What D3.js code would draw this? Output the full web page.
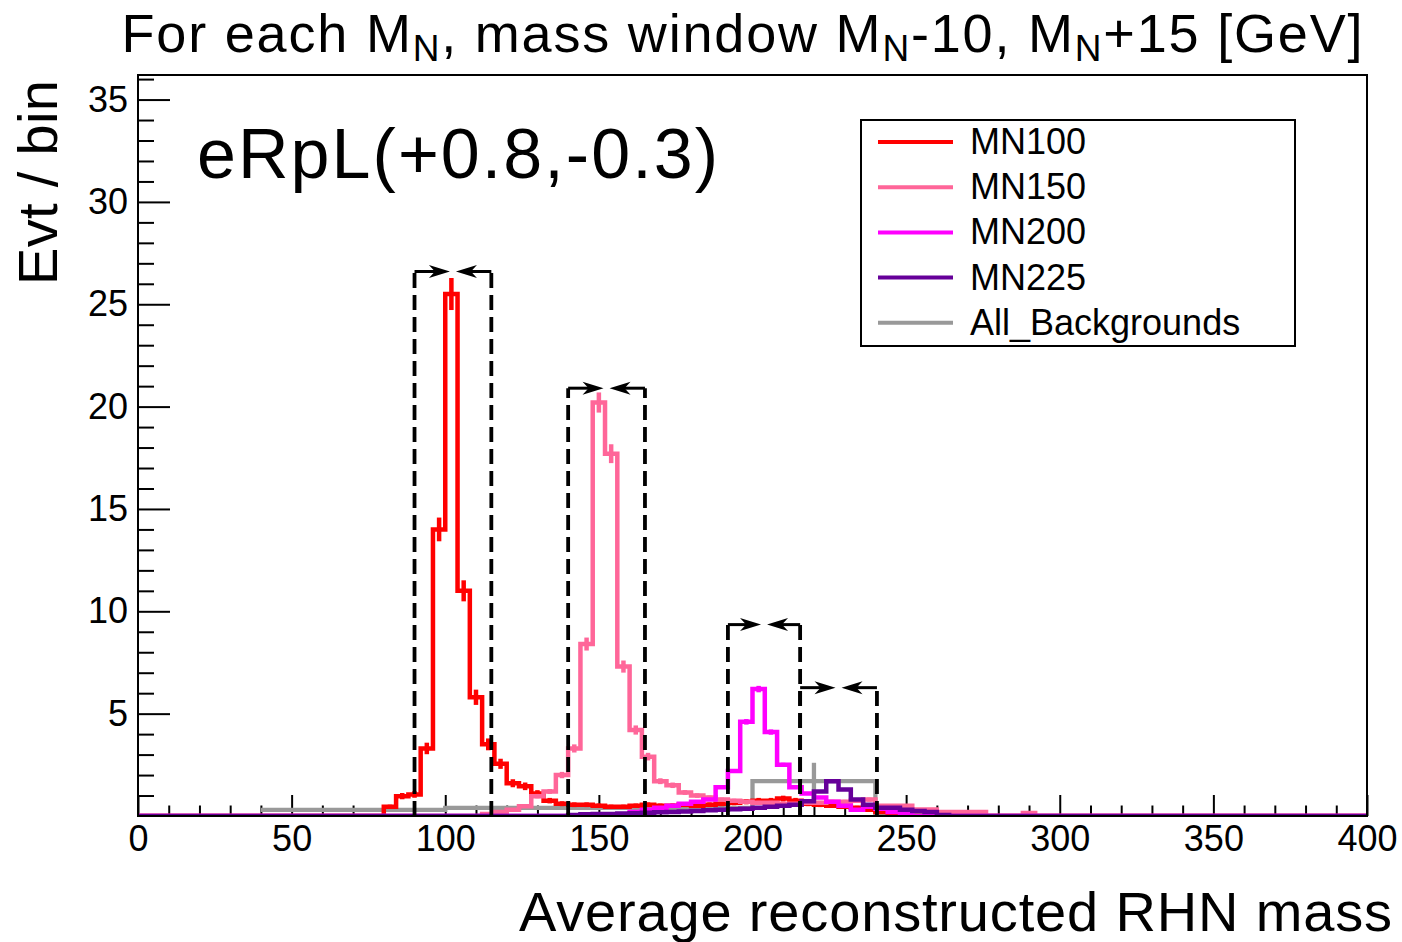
<!DOCTYPE html>
<html>
<head>
<meta charset="utf-8">
<script src="https://cdn.jsdelivr.net/npm/d3@7"></script>
<style>
  body { margin: 0; background: #fff; }
  svg text { font-family: "Liberation Sans", Arial, Helvetica, sans-serif; fill: #000; }
</style>
</head>
<body>
<div id="chart"></div>
<script>
// RHN mass windows plot, eRpL(+0.8,-0.3)

// ---- data ----
const binWidth = 4; // GeV, signal histograms

// MN100 from 80 GeV on
const mn100Start = 80;
const mn100 = [0.45, 0.97, 1.05, 3.3, 14.0, 25.5, 11.0, 5.8, 3.5, 2.55, 1.6, 1.45, 1.1, 0.75, 0.6,
  0.55, 0.55, 0.5, 0.45, 0.45, 0.5, 0.55, 0.5, 0.5, 0.55, 0.5, 0.55, 0.6, 0.65, 0.7, 0.75, 0.75,
  0.85, 0.75, 0.6, 0.55, 0.5, 0.45, 0.4, 0.3, 0.2, 0.1];

// MN150 from 112 GeV on
const mn150Start = 112;
const mn150 = [0.1, 0.2, 0.3, 0.48, 0.97, 1.2, 2.0, 3.3, 8.4, 20.2, 17.7, 7.3, 4.2, 2.9, 1.7, 1.5,
  1.15, 1.0, 0.9, 0.8, 0.75, 0.7, 0.65, 0.65, 0.6, 0.6, 0.65, 0.65, 0.7, 0.7, 0.75, 0.8, 0.5, 0.5,
  0.5, 0.32, 0.32, 0.2, 0.2, 0.2, 0.2, 0, 0, 0, 0.15];

// MN200 from 160 GeV on
const mn200Start = 160;
const mn200 = [0.2, 0.3, 0.4, 0.5, 0.6, 0.7, 0.8, 1.4, 2.2, 4.6, 6.2, 4.1, 2.5, 1.4, 1.1, 0.9, 0.7,
  0.5, 0.3, 0.45, 0.35, 0.2, 0.1];

// MN225 from 140 GeV on
const mn225Start = 140;
const mn225 = [0.05, 0.08, 0.1, 0.1, 0.12, 0.14, 0.16, 0.18, 0.2, 0.22, 0.25, 0.28, 0.3, 0.33, 0.36,
  0.4, 0.45, 0.5, 0.55, 0.72, 1.2, 1.7, 1.3, 0.8, 0.55, 0.4, 0.4, 0.3, 0.25, 0.2, 0.05];

// event weights (for the small stat. error bars)
const signalWeights = [0.024, 0.012, 0.004, 0.003];

// background, variable bins
const bkgEdges = [40, 100, 200, 240, 260];
const bkgValues = [0.3, 0.4, 1.7, 0.1];
const bkgErrors = [0, 0, 0.9, 0];

// mass windows [MN-10, MN+15] and the height of their markers
const windowLow = [90, 140, 192, 215.5];
const windowHigh = [115, 165, 215.5, 240.5];
const windowTop = [26.6, 20.9, 9.35, 6.27];

const seriesNames = ["MN100", "MN150", "MN200", "MN225", "All_Backgrounds"];
const seriesColors = ["#ff0000", "#ff6699", "#ff00ff", "#660099", "#999999"];

const xTicks = d3.range(0, 401, 50);
const yTicks = [5, 10, 15, 20, 25, 30, 35];

// ---- layout ----
const margin = {top: 75, right: 35, bottom: 126, left: 138},
      width = 1367 - margin.left,
      height = 816 - margin.top;

const svg = d3.select("#chart")
  .append("svg")
    .attr("width", 1402)
    .attr("height", 942);

const g = svg.append("g")
    .attr("transform", `translate(${margin.left},${margin.top})`);

const x = d3.scaleLinear().domain([0, 400]).range([0, width]);
const y = d3.scaleLinear().domain([0, 36.2]).range([height, 0]);

g.append("clipPath").attr("id", "frameClip")
  .append("rect").attr("width", width).attr("height", height);

// ---- axes ----
const xMinor = d3.range(0, 401, 10).filter(d => d % 50 !== 0);
g.append("g")
  .attr("transform", `translate(0,${height})`)
  .call(d3.axisBottom(x).tickValues(xMinor).tickSize(-10.5).tickFormat(""))
  .call(a => a.select(".domain").remove())
  .call(a => a.selectAll("line").attr("stroke-width", 2));

g.append("g")
  .attr("transform", `translate(0,${height})`)
  .call(d3.axisBottom(x).tickValues(xTicks).tickSizeInner(-21).tickSizeOuter(0).tickPadding(9))
  .call(a => a.select(".domain").remove())
  .call(a => a.selectAll("line").attr("stroke-width", 2))
  .call(a => a.selectAll("text").attr("font-size", 36).attr("font-family", null));

const yMinor = d3.range(1, 37, 1).filter(d => d % 5 !== 0);
g.append("g")
  .call(d3.axisLeft(y).tickValues(yMinor).tickSize(-16).tickFormat(""))
  .call(a => a.select(".domain").remove())
  .call(a => a.selectAll("line").attr("stroke-width", 2));

g.append("g")
  .call(d3.axisLeft(y).tickValues(yTicks).tickSizeInner(-32).tickSizeOuter(0).tickPadding(10))
  .call(a => a.select(".domain").remove())
  .call(a => a.selectAll("line").attr("stroke-width", 2))
  .call(a => a.selectAll("text").attr("font-size", 36).attr("font-family", null));

// ---- histograms ----
function fullBins(start, vals) {
  const bins = d3.range(0, 400, binWidth).map(e => ({lo: e, hi: e + binWidth, v: 0}));
  vals.forEach((v, i) => { bins[(start / binWidth) + i].v = v; });
  return bins;
}

const signals = [
  fullBins(mn100Start, mn100),
  fullBins(mn150Start, mn150),
  fullBins(mn200Start, mn200),
  fullBins(mn225Start, mn225)
];
const bkg = bkgValues.map((v, i) => ({lo: bkgEdges[i], hi: bkgEdges[i + 1], v: v, e: bkgErrors[i]}));

const step = d3.line().x(d => x(d[0])).y(d => y(d[1])).curve(d3.curveStepAfter);
function stepPoints(bins) {
  const pts = bins.map(b => [b.lo, b.v]);
  pts.push([bins[bins.length - 1].hi, bins[bins.length - 1].v]);
  return pts;
}

const plot = g.append("g").attr("clip-path", "url(#frameClip)");

// background first
const bkgPts = stepPoints(bkg);
bkgPts.push([bkgEdges[bkgEdges.length - 1], 0]);
plot.append("path")
  .attr("d", step(bkgPts))
  .attr("fill", "none")
  .attr("stroke", seriesColors[4])
  .attr("stroke-width", 4.3);
plot.selectAll(".bkgErr")
  .data(bkg.filter(b => b.e > 0))
  .enter().append("line")
    .attr("x1", b => x((b.lo + b.hi) / 2)).attr("x2", b => x((b.lo + b.hi) / 2))
    .attr("y1", b => y(b.v - b.e)).attr("y2", b => y(b.v + b.e))
    .attr("stroke", seriesColors[4]).attr("stroke-width", 4.3);

signals.forEach((bins, k) => {
  plot.append("path")
    .attr("d", step(stepPoints(bins)))
    .attr("fill", "none")
    .attr("stroke", seriesColors[k])
    .attr("stroke-width", 4.5);
  plot.selectAll(".err" + k)
    .data(bins.filter(b => b.v > 0))
    .enter().append("line")
      .attr("x1", b => x((b.lo + b.hi) / 2)).attr("x2", b => x((b.lo + b.hi) / 2))
      .attr("y1", b => y(b.v - Math.sqrt(b.v * signalWeights[k])))
      .attr("y2", b => y(b.v + Math.sqrt(b.v * signalWeights[k])))
      .attr("stroke", seriesColors[k]).attr("stroke-width", 4.5);
});

// ---- mass windows ----
const windows = windowLow.map((lo, i) => ({lo: lo, hi: windowHigh[i], h: windowTop[i]}));
const wg = g.append("g");
wg.selectAll(".wl")
  .data(windows.flatMap(w => [w.lo, w.hi].map(m => ({m: m, h: w.h}))))
  .enter().append("line")
    .attr("x1", d => x(d.m)).attr("x2", d => x(d.m))
    .attr("y1", y(0)).attr("y2", d => y(d.h))
    .attr("stroke", "#000").attr("stroke-width", 3.8)
    .attr("stroke-dasharray", "15,7");

function arrowHead(tx, ty, dir) {
  return [[tx, ty], [tx - dir * 21, ty - 6.5], [tx - dir * 15, ty], [tx - dir * 21, ty + 6.5]];
}
windows.forEach(w => {
  const x0 = x(w.lo), x1 = x(w.hi), yy = y(w.h), cx = (x0 + x1) / 2, gap = 3;
  [[x0, cx - gap, 1], [x1, cx + gap, -1]].forEach(([s, t, dir]) => {
    wg.append("line")
      .attr("x1", s).attr("x2", t - dir * 10).attr("y1", yy).attr("y2", yy)
      .attr("stroke", "#000").attr("stroke-width", 3);
    wg.append("polygon")
      .attr("points", arrowHead(t, yy, dir).map(p => p.join(",")).join(" "))
      .attr("fill", "#000");
  });
});

// ---- frame ----
g.append("rect")
  .attr("width", width).attr("height", height)
  .attr("fill", "none").attr("stroke", "#000").attr("stroke-width", 2);

// ---- texts ----
const title = svg.append("text")
  .attr("x", 742).attr("y", 52)
  .attr("text-anchor", "middle")
  .attr("font-size", 54)
  .attr("textLength", 1241)
  .attr("lengthAdjust", "spacing");
[["For each M", false], ["N", true], [", mass window M", false], ["N", true],
 ["-10, M", false], ["N", true], ["+15 [GeV]", false]].forEach(([t, sub], i) => {
  title.append("tspan")
    .attr("font-size", sub ? 37 : null)
    .attr("dy", i === 0 ? null : (sub ? 9 : -9))
    .text(t);
});

svg.append("text")
  .attr("x", 197).attr("y", 178)
  .attr("font-size", 70)
  .attr("textLength", 521)
  .attr("lengthAdjust", "spacing")
  .text("eRpL(+0.8,-0.3)");

svg.append("text")
  .attr("text-anchor", "end")
  .attr("transform", "translate(57,80) rotate(-90)")
  .attr("font-size", 56)
  .attr("textLength", 205)
  .attr("lengthAdjust", "spacing")
  .text("Evt / bin");

svg.append("text")
  .attr("x", 1392).attr("y", 931)
  .attr("text-anchor", "end")
  .attr("font-size", 56)
  .attr("textLength", 873)
  .attr("lengthAdjust", "spacing")
  .text("Average reconstructed RHN mass");

// ---- legend ----
const lg = svg.append("g");
lg.append("rect")
  .attr("x", 861).attr("y", 120).attr("width", 434).attr("height", 226)
  .attr("fill", "#fff").attr("stroke", "#000").attr("stroke-width", 2);
seriesNames.forEach((name, i) => {
  const ly = 142 + i * 45.2;
  lg.append("line")
    .attr("x1", 878).attr("x2", 953).attr("y1", ly).attr("y2", ly)
    .attr("stroke", seriesColors[i]).attr("stroke-width", 4);
  lg.append("text")
    .attr("x", 970).attr("y", ly + 12)
    .attr("font-size", 36)
    .text(name);
});
</script>
</body>
</html>
